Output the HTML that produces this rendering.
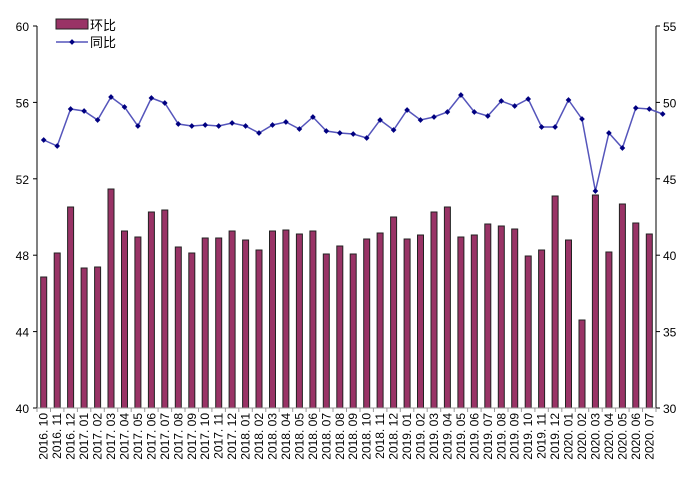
<!DOCTYPE html>
<html><head><meta charset="utf-8"><style>
html,body{margin:0;padding:0;background:#fff;}
svg{display:block;font-family:"Liberation Sans","Noto Sans CJK SC",sans-serif;}
</style></head><body>
<svg id="c" width="689" height="483" viewBox="0 0 689 483" xmlns="http://www.w3.org/2000/svg"></svg>
<script>
const bars=[277,253,207,268,267,189,231,237,212,210,247,253,238,238,231,240,250,231,230,234,231,254,246,
254,239,233,217,239,235,212,207,237,235,224,226,229,256,250,196,240,320,195,252,204,223,234];
const line=[140,146,109,111,120,97,107,126,98,103,124,126,125,126,123,126,133,125,122,129,117,131,133,134,
138,120,130,110,120,117,112,95,112,116,101,106,99,127,127,100,119,191,133,148,108,109,114];
const labels=[];
let y=2016,m=10;
for(let i=0;i<46;i++){labels.push(y+'. '+String(m).padStart(2,'0'));m++;if(m>12){m=1;y++;}}
const X0=37,X1=656,Y0=26,Y1=408,W=(X1-X0)/46;
let s='';
// bars
for(let i=0;i<46;i++){const cx=X0+W*(i+0.5);s+=`<rect x="${(cx-3).toFixed(1)}" y="${bars[i]}" width="6" height="${Y1-bars[i]}" fill="#993366" stroke="#222" stroke-width="1"/>`;}
// axes
s+=`<line x1="${X0}" y1="${Y0}" x2="${X0}" y2="${Y1}" stroke="#000"/>`;
s+=`<line x1="${X1}" y1="${Y0}" x2="${X1}" y2="${Y1}" stroke="#000"/>`;
s+=`<line x1="${X0}" y1="${Y1}" x2="${X1}" y2="${Y1}" stroke="#999"/>`;
const lt=[60,56,52,48,44,40],rt=[55,50,45,40,35,30];
for(let k=0;k<6;k++){const yy=Y0+(Y1-Y0)*k/5;
s+=`<line x1="${X0-4}" y1="${yy}" x2="${X0}" y2="${yy}" stroke="#000"/>`;
s+=`<line x1="${X1}" y1="${yy}" x2="${X1+4}" y2="${yy}" stroke="#000"/>`;
s+=`<text x="${X0-8}" y="${yy+5}" font-size="12" text-anchor="end">${lt[k]}</text>`;
s+=`<text x="${X1+7}" y="${yy+5}" font-size="12">${rt[k]}</text>`;}
for(let i=0;i<=46;i++){const xx=X0+W*i;s+=`<line x1="${xx.toFixed(1)}" y1="${Y1}" x2="${xx.toFixed(1)}" y2="${Y1+4}" stroke="#999"/>`;}
// line
let pts=line.map((v,i)=>(X0+W*(i+0.5)).toFixed(1)+','+v).join(' ');
s+=`<polyline points="${pts}" fill="none" stroke="#5555bb" stroke-width="1.5"/>`;
line.forEach((v,i)=>{const cx=X0+W*(i+0.5);s+=`<rect x="${(cx-2).toFixed(1)}" y="${v-2}" width="4" height="4" fill="#000080" transform="rotate(45 ${cx.toFixed(1)} ${v})"/>`;});
// labels
labels.forEach((t,i)=>{const cx=X0+W*(i+0.5)+4;s+=`<text x="0" y="0" font-size="12" text-anchor="end" transform="translate(${cx.toFixed(1)},413) rotate(-90)">${t}</text>`;});
// legend
s+=`<rect x="56" y="19" width="32" height="10" fill="#993366" stroke="#222"/>`;
s+=`<text x="90" y="30" font-size="13">环比</text>`;
s+=`<line x1="56" y1="42" x2="88" y2="42" stroke="#5555bb" stroke-width="1.5"/>`;
s+=`<rect x="70" y="40" width="4" height="4" fill="#000080" transform="rotate(45 72 42)"/>`;
s+=`<text x="90" y="47" font-size="13">同比</text>`;
document.getElementById('c').innerHTML=s;
</script>
</body></html>
